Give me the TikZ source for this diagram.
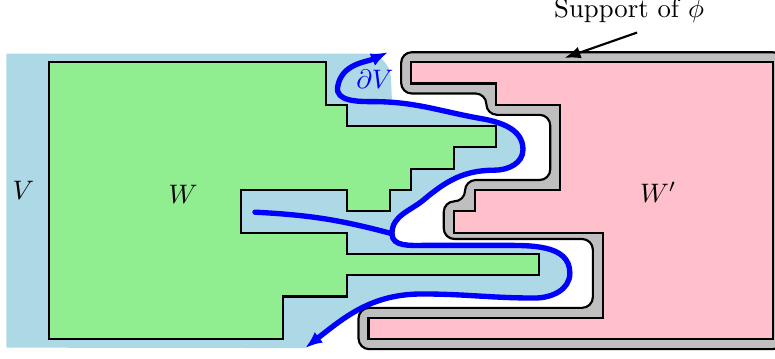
\documentclass[tikz,border=0pt]{standalone}
\usetikzlibrary{arrows.meta}
\definecolor{vblue}{RGB}{173,216,230}
\definecolor{wgreen}{RGB}{144,238,144}
\definecolor{wpink}{RGB}{255,192,203}
\definecolor{suppgray}{RGB}{191,191,191}
\begin{document}
\begin{tikzpicture}[x=0.28cm,y=0.28cm,
region/.style={%
draw,
thick,
},
bdry/.style={%
draw=blue,
line width=2pt,
line cap=round,
},
tip/.style={%
{Latex[length=6.5pt,width=5pt]}-{Latex[length=6.5pt,width=5pt]},
},
]
\useasboundingbox (-2.3,-0.89) rectangle (34.08,15.92);
\clip (-2.3,-0.89) rectangle (34.08,15.92);
%% V
\fill[vblue] (-2,-0.4) |- (14.9,13.4) to[out=0,in=95] (16.05,12.3) -- (16.1,11.2)
-- (15.2,11.15) to[out=0,in=170] (20.3,10.35) to[out=-10,in=90] (22.25,8.9)
to[out=-90,in=0] (20.9,7.93) to[out=180,in=40] (17.6,6.55) to[out=220,in=90] (16.1,4.95)
to[out=-90,in=180] (17.6,4.4) -- (21.2,4.4) to[out=0,in=90] (24.45,3.1)
to[out=-90,in=0] (22.8,1.93) to[out=180,in=0] (17.5,2.12) to[out=180,in=38] (12.02,-0.42)
-- cycle;
%% Support of phi
\filldraw[region,fill=suppgray,rounded corners=4pt] (16.53,13.47) -- (16.53,11.53)
-- (20.53,11.53) -- (20.53,10.53) -- (23.53,10.53) -- (23.53,7.47) -- (19.53,7.47)
-- (19.53,6.47) -- (18.53,6.47) -- (18.53,4.7) -- (25.53,4.7) -- (25.53,1.47)
-- (14.53,1.47) -- (14.53,-0.47) -- (34.47,-0.47) -- (34.47,13.47) -- cycle;
%% W'
\filldraw[region,fill=wpink] (17,13) -- (17,12) -- (21,12) -- (21,11) -- (24,11)
-- (24,7) -- (20,7) -- (20,6) -- (19,6) -- (19,5) -- (26,5) -- (26,1) -- (15,1)
-- (15,0) -- (34,0) -- (34,13) -- cycle;
%% W
\filldraw[region,fill=wgreen] (0,0) -- (0,13) -- (13,13) -- (13,11) -- (14,11)
-- (14,10) -- (21,10) -- (21,9) -- (19,9) -- (19,8) -- (17,8) -- (17,7) -- (16,7)
-- (16,6) -- (14,6) -- (14,7) -- (9,7) -- (9,5) -- (14,5) -- (14,4) -- (23,4)
-- (23,3) -- (14,3) -- (14,2) -- (11,2) -- (11,0) -- cycle;
%% boundary of V
\draw[bdry,tip] (15.92,13.47) to[out=205,in=80] (13.55,11.85) to[out=-100,in=180] (15.2,11.15)
to[out=0,in=170] (20.3,10.35) to[out=-10,in=90] (22.25,8.9) to[out=-90,in=0] (20.9,7.93)
to[out=180,in=40] (17.6,6.55) to[out=220,in=90] (16.1,4.95) to[out=-90,in=180] (17.6,4.4)
-- (21.2,4.4) to[out=0,in=90] (24.45,3.1) to[out=-90,in=0] (22.8,1.93)
to[out=180,in=0] (17.5,2.12) to[out=180,in=38] (12.02,-0.42);
\coordinate (slit) at (16.1,4.95);
\draw[bdry] (9.67,5.96) to[out=-3,in=165] (slit);
%% labels
\node (V) at (-1.2,7.0) {$V$};
\node (W) at (6.3,6.8) {$W$};
\node (Wp) at (28.6,6.9) {$W'$};
\node[text=blue] (dV) at (15.3,12.2) {$\partial V$};
\node (supp) at (27.23,15.4) {Support of $\phi$};
\coordinate (supptip) at (24.2,13.2);
\draw[thick,-{Latex[length=6pt,width=4.5pt]}] ([xshift=3pt]supp.south) -- (supptip);
\end{tikzpicture}
\end{document}
